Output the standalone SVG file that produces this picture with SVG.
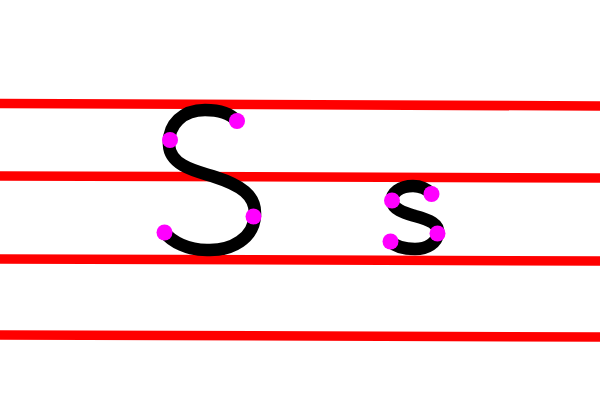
<svg xmlns="http://www.w3.org/2000/svg" width="600" height="400" viewBox="0 0 600 400">
<style>
.guide{stroke:#ff0000;stroke-width:9.5;fill:none}
.stroke{stroke:#000;stroke-width:12.5;fill:none;stroke-linecap:round;stroke-linejoin:round}
.dot{fill:#ff00ff}
</style>
<rect width="600" height="400" fill="#fff"/>
<g id="guides">
<line class="guide" x1="0" y1="103.5" x2="600" y2="106"/>
<line class="guide" x1="0" y1="176" x2="600" y2="178"/>
<line class="guide" x1="0" y1="259" x2="600" y2="261"/>
<line class="guide" x1="0" y1="335" x2="600" y2="337"/>
</g>
<g id="bigS">
<path class="stroke" d="M237,121 C229,112 218,110 205,110 C183,110 168,124 169,145 C170,167 200,172 215,177 C240,185 256,195 255,215 C254,238 232,251 207,250 C188,250 172,242 164,232"/>
<circle class="dot" cx="237" cy="121" r="8"/>
<circle class="dot" cx="170" cy="140" r="8"/>
<circle class="dot" cx="253.5" cy="216.5" r="8"/>
<circle class="dot" cx="164.5" cy="232.5" r="8"/>
</g>
<g id="smallS">
<path class="stroke" d="M432,194 C426,188 419,186 413,186 C400,186 391,193 392,201 C393,210 405,213 415,216 C430,220 439,224 438,233 C437,243 427,249 415,249 C404,249 395,246 391,242"/>
<circle class="dot" cx="392" cy="200.5" r="8"/>
<circle class="dot" cx="431.5" cy="194" r="8"/>
<circle class="dot" cx="437.5" cy="233.5" r="8"/>
<circle class="dot" cx="390.5" cy="241.5" r="8"/>
</g>
</svg>
